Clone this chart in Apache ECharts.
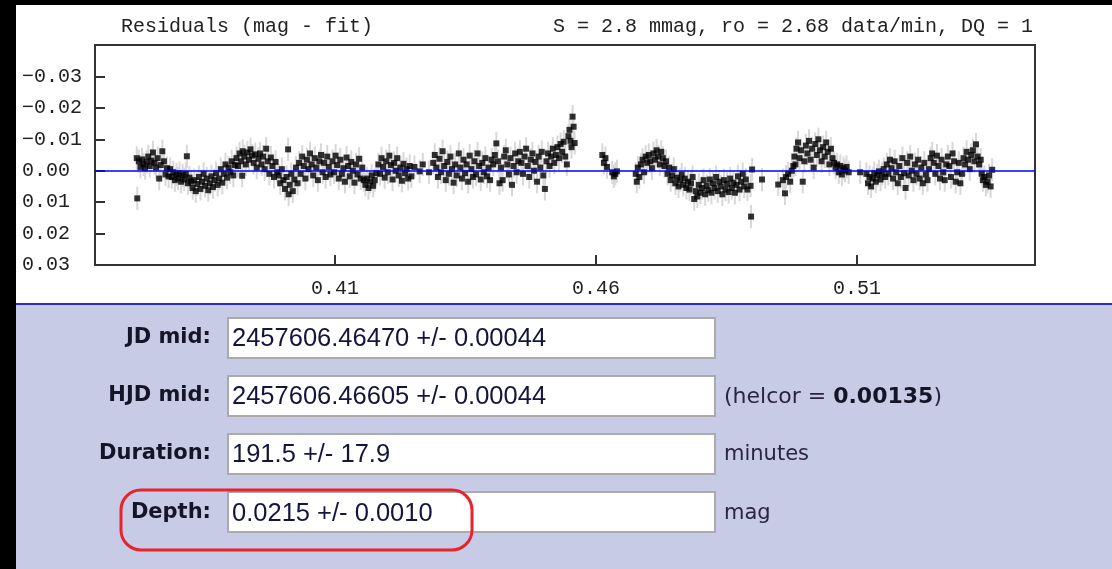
<!DOCTYPE html>
<html>
<head>
<meta charset="utf-8">
<title>Transit residuals</title>
<script src="https://cdn.jsdelivr.net/npm/echarts@6/dist/echarts.min.js"></script>
<style>
  html, body { margin: 0; padding: 0; background: #000; }
  #chart { width: 1112px; height: 569px; }
</style>
</head>
<body>
<div id="chart"></div>
<script>
// Residuals of the transit fit: [time (fraction of JD), residual (mag)]
const residuals = [
  [0.3720, -0.0040], [0.3721, 0.0088], [0.3724, -0.0030], [0.3727, -0.0012], [0.3730, -0.0036],
  [0.3733, -0.0020], [0.3736, -0.0008], [0.3739, -0.0028], [0.3742, -0.0045], [0.3745, -0.0015],
  [0.3748, -0.0032], [0.3751, -0.0058], [0.3754, -0.0025], [0.3757, -0.0010], [0.3760, -0.0040],
  [0.3763, 0.0025], [0.3766, -0.0018], [0.3769, -0.0062], [0.3772, -0.0030], [0.3775, 0.0012],
  [0.3778, -0.0008], [0.3781, 0.0018], [0.3784, -0.0005], [0.3787, 0.0020], [0.3790, 0.0005],
  [0.3793, 0.0030], [0.3796, 0.0012], [0.3799, 0.0025], [0.3802, 0.0008], [0.3805, 0.0035],
  [0.3808, 0.0015], [0.3811, 0.0028], [0.3814, 0.0010], [0.3816, -0.0046], [0.3818, 0.0040],
  [0.3821, 0.0022], [0.3824, 0.0035], [0.3827, 0.0055], [0.3830, 0.0030], [0.3833, 0.0065],
  [0.3836, 0.0042], [0.3839, 0.0020], [0.3842, 0.0058], [0.3845, 0.0035], [0.3848, 0.0010],
  [0.3851, 0.0048], [0.3854, 0.0025], [0.3857, 0.0062], [0.3860, 0.0040], [0.3863, 0.0018],
  [0.3866, 0.0052], [0.3869, 0.0030], [0.3872, 0.0008], [0.3875, 0.0045], [0.3878, 0.0025],
  [0.3881, -0.0005], [0.3884, 0.0038], [0.3887, 0.0010], [0.3890, -0.0020], [0.3893, 0.0022],
  [0.3896, -0.0010], [0.3899, 0.0005], [0.3902, -0.0030], [0.3905, 0.0015], [0.3908, -0.0018],
  [0.3911, -0.0040], [0.3914, -0.0015], [0.3917, -0.0055], [0.3920, -0.0030], [0.3922, 0.0016],
  [0.3923, -0.0062], [0.3926, -0.0045], [0.3929, -0.0020], [0.3932, -0.0058], [0.3935, -0.0035],
  [0.3938, -0.0068], [0.3941, -0.0048], [0.3944, -0.0025], [0.3947, -0.0052], [0.3950, -0.0010],
  [0.3953, -0.0038], [0.3956, -0.0055], [0.3959, -0.0020], [0.3962, -0.0045], [0.3965, -0.0005],
  [0.3968, -0.0070], [0.3971, -0.0030], [0.3974, 0.0010], [0.3977, -0.0042], [0.3980, -0.0015],
  [0.3983, 0.0020], [0.3986, -0.0028], [0.3989, 0.0005], [0.3992, 0.0015], [0.3995, 0.0040],
  [0.3998, -0.0005], [0.4001, 0.0030], [0.4004, 0.0058], [0.4007, 0.0020], [0.4010, -0.0068],
  [0.4011, 0.0075], [0.4013, 0.0045], [0.4016, 0.0010], [0.4019, 0.0065], [0.4022, 0.0028],
  [0.4025, -0.0010], [0.4028, 0.0040], [0.4031, -0.0025], [0.4034, 0.0010], [0.4037, -0.0045],
  [0.4040, -0.0015], [0.4043, 0.0025], [0.4046, -0.0035], [0.4049, -0.0005], [0.4052, -0.0055],
  [0.4055, -0.0020], [0.4058, 0.0015], [0.4061, -0.0040], [0.4064, -0.0010], [0.4067, 0.0030],
  [0.4070, -0.0030], [0.4073, -0.0050], [0.4076, 0.0005], [0.4079, -0.0025], [0.4082, 0.0020],
  [0.4085, -0.0045], [0.4088, -0.0012], [0.4091, 0.0012], [0.4095, -0.0030], [0.4098, 0.0005],
  [0.4101, -0.0048], [0.4104, -0.0018], [0.4107, 0.0025], [0.4110, -0.0035], [0.4113, 0.0010],
  [0.4116, -0.0008], [0.4119, 0.0035], [0.4122, -0.0042], [0.4125, -0.0015], [0.4128, 0.0018],
  [0.4131, -0.0028], [0.4134, 0.0000], [0.4137, 0.0038], [0.4140, -0.0020], [0.4143, 0.0012],
  [0.4146, -0.0038], [0.4149, 0.0025], [0.4152, -0.0010], [0.4155, 0.0030], [0.4158, 0.0045],
  [0.4161, 0.0025], [0.4164, 0.0055], [0.4167, 0.0035], [0.4170, 0.0015], [0.4173, 0.0048],
  [0.4176, 0.0030], [0.4179, 0.0008], [0.4183, -0.0020], [0.4186, 0.0010], [0.4189, -0.0040],
  [0.4192, -0.0012], [0.4195, 0.0022], [0.4198, -0.0030], [0.4201, 0.0005], [0.4204, -0.0048],
  [0.4207, -0.0018], [0.4210, 0.0028], [0.4213, -0.0025], [0.4216, 0.0000], [0.4219, -0.0040],
  [0.4222, 0.0015], [0.4225, -0.0010], [0.4228, 0.0032], [0.4231, -0.0022], [0.4234, 0.0008],
  [0.4237, -0.0005], [0.4240, 0.0025], [0.4243, -0.0015], [0.4246, 0.0018], [0.4252, -0.0012],
  [0.4262, 0.0002], [0.4268, -0.0020], [0.4280, 0.0005], [0.4288, -0.0025], [0.4291, -0.0050],
  [0.4294, -0.0010], [0.4297, 0.0020], [0.4300, -0.0038], [0.4303, 0.0005], [0.4306, -0.0062],
  [0.4309, -0.0015], [0.4312, 0.0030], [0.4315, -0.0028], [0.4318, 0.0010], [0.4321, -0.0045],
  [0.4324, -0.0005], [0.4327, 0.0038], [0.4330, -0.0020], [0.4333, 0.0015], [0.4337, -0.0055],
  [0.4340, -0.0010], [0.4343, 0.0025], [0.4346, -0.0035], [0.4349, 0.0008], [0.4352, -0.0020],
  [0.4355, 0.0035], [0.4358, -0.0048], [0.4361, -0.0005], [0.4364, 0.0020], [0.4367, -0.0030],
  [0.4370, 0.0012], [0.4373, -0.0055], [0.4376, -0.0015], [0.4379, 0.0028], [0.4382, -0.0025],
  [0.4385, 0.0005], [0.4388, -0.0040], [0.4391, 0.0018], [0.4394, -0.0010], [0.4397, 0.0030],
  [0.4400, -0.0035], [0.4403, -0.0020], [0.4406, -0.0050], [0.4409, -0.0087], [0.4412, -0.0030],
  [0.4415, 0.0040], [0.4418, -0.0010], [0.4421, 0.0030], [0.4424, -0.0045], [0.4427, -0.0065],
  [0.4430, -0.0020], [0.4433, 0.0012], [0.4436, -0.0040], [0.4439, 0.0045], [0.4442, -0.0015],
  [0.4445, -0.0055], [0.4448, 0.0005], [0.4451, -0.0030], [0.4454, -0.0060], [0.4457, -0.0025],
  [0.4460, 0.0010], [0.4463, -0.0045], [0.4466, -0.0070], [0.4469, -0.0015], [0.4472, 0.0020],
  [0.4475, -0.0035], [0.4478, -0.0055], [0.4481, 0.0000], [0.4484, -0.0028], [0.4487, 0.0035],
  [0.4490, -0.0045], [0.4493, -0.0010], [0.4496, -0.0060], [0.4499, 0.0015], [0.4502, 0.0058],
  [0.4505, -0.0030], [0.4508, -0.0055], [0.4511, -0.0015], [0.4514, -0.0045], [0.4517, -0.0070],
  [0.4520, -0.0025], [0.4523, -0.0050], [0.4526, -0.0075], [0.4529, -0.0040], [0.4532, -0.0085],
  [0.4535, -0.0060], [0.4538, -0.0092], [0.4541, -0.0045], [0.4544, -0.0020], [0.4547, -0.0110],
  [0.4549, -0.0130], [0.4551, -0.0095], [0.4553, -0.0075], [0.4555, -0.0172], [0.4557, -0.0140],
  [0.4559, -0.0088], [0.4612, -0.0050], [0.4615, -0.0025], [0.4618, -0.0040], [0.4621, -0.0012],
  [0.4631, 0.0005], [0.4634, 0.0018], [0.4637, 0.0010], [0.4640, 0.0002], [0.4676, 0.0010],
  [0.4678, 0.0035], [0.4680, -0.0010], [0.4683, 0.0020], [0.4686, -0.0020], [0.4689, -0.0035],
  [0.4692, 0.0005], [0.4695, -0.0045], [0.4698, -0.0025], [0.4701, -0.0050], [0.4704, -0.0030],
  [0.4707, -0.0008], [0.4710, -0.0055], [0.4713, -0.0035], [0.4716, -0.0065], [0.4719, -0.0045],
  [0.4722, -0.0020], [0.4725, -0.0060], [0.4728, -0.0040], [0.4731, -0.0015], [0.4734, -0.0030],
  [0.4737, 0.0010], [0.4740, -0.0010], [0.4743, 0.0030], [0.4746, 0.0015], [0.4749, -0.0005],
  [0.4752, 0.0040], [0.4755, 0.0022], [0.4758, 0.0050], [0.4761, 0.0030], [0.4764, 0.0012],
  [0.4767, 0.0045], [0.4770, 0.0025], [0.4773, 0.0055], [0.4776, 0.0035], [0.4779, 0.0060],
  [0.4782, 0.0040], [0.4785, 0.0020], [0.4788, 0.0090], [0.4791, 0.0065], [0.4794, 0.0082],
  [0.4797, 0.0045], [0.4800, 0.0070], [0.4803, 0.0055], [0.4806, 0.0030], [0.4809, 0.0075],
  [0.4812, 0.0048], [0.4815, 0.0062], [0.4818, 0.0028], [0.4821, 0.0070], [0.4824, 0.0040],
  [0.4827, 0.0055], [0.4830, 0.0020], [0.4833, 0.0065], [0.4836, 0.0035], [0.4839, 0.0050],
  [0.4842, 0.0075], [0.4845, 0.0030], [0.4848, 0.0060], [0.4851, 0.0042], [0.4854, 0.0068],
  [0.4857, 0.0025], [0.4860, 0.0055], [0.4863, 0.0038], [0.4866, 0.0070], [0.4869, 0.0045],
  [0.4872, 0.0018], [0.4875, 0.0060], [0.4878, 0.0035], [0.4881, 0.0010], [0.4884, 0.0050],
  [0.4887, 0.0028], [0.4890, 0.0060], [0.4896, 0.0048], [0.4897, 0.0146], [0.4899, -0.0004],
  [0.4918, 0.0028], [0.4949, 0.0044], [0.4958, 0.0030], [0.4962, 0.0072], [0.4964, 0.0020],
  [0.4968, 0.0010], [0.4972, 0.0035], [0.4975, 0.0000], [0.4978, -0.0015], [0.4980, -0.0045],
  [0.4982, -0.0020], [0.4984, -0.0070], [0.4987, -0.0090], [0.4990, -0.0040], [0.4993, -0.0065],
  [0.4996, 0.0035], [0.4999, -0.0030], [0.5002, -0.0080], [0.5005, -0.0055], [0.5008, -0.0095],
  [0.5011, -0.0035], [0.5014, -0.0070], [0.5017, -0.0010], [0.5020, -0.0085], [0.5023, -0.0050],
  [0.5026, -0.0100], [0.5029, -0.0065], [0.5032, -0.0030], [0.5035, -0.0075], [0.5038, -0.0045],
  [0.5041, -0.0090], [0.5044, -0.0060], [0.5047, -0.0020], [0.5050, -0.0070], [0.5053, -0.0040],
  [0.5056, -0.0025], [0.5059, -0.0010], [0.5062, -0.0020], [0.5065, 0.0005], [0.5068, -0.0015],
  [0.5071, 0.0012], [0.5074, -0.0008], [0.5077, 0.0000], [0.5080, -0.0012], [0.5084, 0.0005],
  [0.5106, 0.0005], [0.5118, 0.0010], [0.5121, 0.0040], [0.5124, 0.0020], [0.5127, 0.0050],
  [0.5130, 0.0025], [0.5133, 0.0008], [0.5136, 0.0035], [0.5139, 0.0015], [0.5142, 0.0002],
  [0.5145, 0.0028], [0.5148, 0.0010], [0.5151, -0.0005], [0.5154, 0.0020], [0.5157, -0.0020],
  [0.5160, 0.0010], [0.5163, -0.0035], [0.5166, -0.0008], [0.5169, 0.0025], [0.5172, -0.0030],
  [0.5175, 0.0005], [0.5178, 0.0040], [0.5181, -0.0015], [0.5184, 0.0020], [0.5187, -0.0040],
  [0.5190, 0.0008], [0.5193, 0.0055], [0.5196, -0.0025], [0.5199, 0.0015], [0.5202, -0.0045],
  [0.5205, 0.0000], [0.5208, 0.0030], [0.5211, -0.0020], [0.5214, 0.0010], [0.5217, -0.0035],
  [0.5220, 0.0025], [0.5223, -0.0010], [0.5226, 0.0040], [0.5229, -0.0025], [0.5232, 0.0012],
  [0.5235, 0.0030], [0.5238, -0.0005], [0.5241, -0.0040], [0.5244, -0.0055], [0.5247, -0.0025],
  [0.5250, 0.0010], [0.5253, -0.0048], [0.5256, -0.0015], [0.5259, 0.0025], [0.5262, -0.0035],
  [0.5265, 0.0005], [0.5268, 0.0030], [0.5271, -0.0020], [0.5274, -0.0045], [0.5277, -0.0015],
  [0.5280, 0.0020], [0.5283, -0.0055], [0.5286, -0.0030], [0.5289, 0.0035], [0.5292, 0.0005],
  [0.5295, -0.0025], [0.5298, 0.0040], [0.5301, 0.0010], [0.5304, -0.0040], [0.5307, -0.0020],
  [0.5310, -0.0060], [0.5313, -0.0035], [0.5316, -0.0005], [0.5319, -0.0050], [0.5322, -0.0065],
  [0.5325, -0.0030], [0.5328, -0.0084], [0.5331, -0.0045], [0.5334, -0.0020], [0.5337, -0.0035],
  [0.5339, 0.0010], [0.5341, 0.0030], [0.5344, 0.0020], [0.5347, 0.0045], [0.5350, 0.0035],
  [0.5353, 0.0015], [0.5356, 0.0050], [0.5359, -0.0003]
];

// 1-sigma photometric error on each point (mag)
const pointError = 0.0037;

// axis layout values
const xRange = [0.364, 0.5441];
const xTicks = [0.41, 0.46, 0.51];
const yRange = [-0.04, 0.03];
const yStep = 0.01;

// header texts above the plot
const plotTitle = 'Residuals (mag - fit)';
const fitStats = 'S = 2.8 mmag, ro = 2.68 data/min, DQ = 1';

// fitted transit parameters shown in the form below the plot
const fieldLabels = ['JD mid:', 'HJD mid:', 'Duration:', 'Depth:'];
const fieldValues = ['2457606.46470 +/- 0.00044', '2457606.46605 +/- 0.00044', '191.5 +/- 17.9', '0.0215 +/- 0.0010'];
const helcor = '0.00135';
const fieldUnits = ['', '', 'minutes', 'mag'];

const MONO = '"Liberation Mono", "DejaVu Sans Mono", monospace';
const SANS = '"DejaVu Sans", Verdana, sans-serif';
const ARIAL = '"Liberation Sans", Arial, sans-serif';

const rowY = [338, 396, 454, 513];
const boxTop = [318, 376, 434, 492];

const graphics = [
  // white plot panel, separator line and lavender form panel
  { type: 'rect', z: -10, shape: { x: 16, y: 5, width: 1096, height: 298 }, style: { fill: '#ffffff' } },
  { type: 'rect', z: -10, shape: { x: 16, y: 303, width: 1096, height: 2 }, style: { fill: '#2a2ad0' } },
  { type: 'rect', z: -10, shape: { x: 16, y: 305, width: 1096, height: 264 }, style: { fill: '#c8cbe5' } }
];

fieldLabels.forEach(function (label, i) {
  graphics.push({
    type: 'text', z: 10, x: 211, y: rowY[i],
    style: { text: label, font: 'bold 21px ' + SANS, fill: '#15152a', align: 'right', verticalAlign: 'middle' }
  });
  graphics.push({
    type: 'rect', z: 5, shape: { x: 228, y: boxTop[i], width: 487, height: 40 },
    style: { fill: '#ffffff', stroke: '#ababab', lineWidth: 2 }
  });
  graphics.push({
    type: 'text', z: 10, x: 232, y: rowY[i] + 1,
    style: { text: fieldValues[i], font: '25.5px ' + ARIAL, fill: '#14143c', align: 'left', verticalAlign: 'middle' }
  });
  if (fieldUnits[i]) {
    graphics.push({
      type: 'text', z: 10, x: 724, y: rowY[i] + 1,
      style: { text: fieldUnits[i], font: '21px ' + SANS, fill: '#2a2440', align: 'left', verticalAlign: 'middle' }
    });
  }
});

// heliocentric correction note, with the number in bold
graphics.push({
  type: 'text', z: 10, x: 724, y: rowY[1] + 1,
  style: {
    text: '{n|(helcor = }{b|' + helcor + '}{n|)}',
    align: 'left', verticalAlign: 'middle',
    rich: {
      n: { font: '22px ' + SANS, fill: '#2a2440' },
      b: { font: 'bold 22px ' + SANS, fill: '#15152a' }
    }
  }
});

// red outline around the depth result
graphics.push({
  type: 'rect', z: 12, shape: { x: 121, y: 490, width: 351, height: 60, r: 20 },
  style: { fill: 'none', stroke: '#e8232b', lineWidth: 3 }
});

const chart = echarts.init(document.getElementById('chart'), null, { renderer: 'canvas', width: 1112, height: 569 });

chart.setOption({
  backgroundColor: '#000000',
  animation: false,
  title: [
    { text: plotTitle, left: 121, top: 17, padding: 0,
      textStyle: { fontFamily: MONO, fontSize: 20, fontWeight: 'normal', color: '#222' } },
    { text: fitStats, right: 79, top: 17, padding: 0,
      textStyle: { fontFamily: MONO, fontSize: 20, fontWeight: 'normal', color: '#222' } }
  ],
  grid: {
    left: 95, right: 77, top: 45, bottom: 304,
    show: true, borderColor: '#333', borderWidth: 2, backgroundColor: 'transparent'
  },
  xAxis: {
    type: 'value', min: xRange[0], max: xRange[1],
    splitLine: { show: false },
    axisLine: { show: true, onZero: false, lineStyle: { color: '#333', width: 2 } },
    axisTick: { show: true, inside: true, length: 10, customValues: xTicks, lineStyle: { color: '#333', width: 2 } },
    axisLabel: {
      customValues: xTicks, margin: 14, fontFamily: MONO, fontSize: 20, color: '#222',
      formatter: function (v) { return v.toFixed(2); }
    }
  },
  yAxis: {
    type: 'value', inverse: true, min: yRange[0], max: yRange[1], interval: yStep,
    splitLine: { show: false },
    axisLine: { show: true, onZero: false, lineStyle: { color: '#333', width: 2 } },
    axisTick: { show: true, inside: true, length: 10, lineStyle: { color: '#333', width: 2 } },
    axisLabel: {
      margin: 73, align: 'left', fontFamily: MONO, fontSize: 20, color: '#222',
      showMinLabel: false,
      formatter: function (v) {
        if (Math.abs(v - yRange[0]) < 1e-9) return '';
        const s = Math.abs(v).toFixed(2);
        return v < -1e-9 ? '\u2212' + s : s;
      }
    }
  },
  graphic: graphics,
  series: [
    {
      // zero-residual reference line
      type: 'line', data: [], z: 1, silent: true,
      markLine: {
        silent: true, symbol: ['none', 'none'], label: { show: false },
        lineStyle: { color: '#0000ff', width: 1.5, type: 'solid' },
        data: [{ yAxis: 0 }]
      }
    },
    {
      // error bars
      type: 'custom', z: 2, silent: true,
      data: residuals.map(function (p) { return [p[0], p[1], pointError]; }),
      renderItem: function (params, api) {
        const x = api.value(0), y = api.value(1), e = api.value(2);
        const a = api.coord([x, y - e]);
        const b = api.coord([x, y + e]);
        return {
          type: 'line',
          shape: { x1: a[0], y1: a[1], x2: b[0], y2: b[1] },
          style: { stroke: '#d8d8d8', lineWidth: 2 }
        };
      }
    },
    {
      type: 'scatter', z: 3, silent: true,
      symbol: 'rect', symbolSize: 6,
      itemStyle: { color: '#000000' },
      data: residuals
    }
  ]
});
</script>
</body>
</html>
